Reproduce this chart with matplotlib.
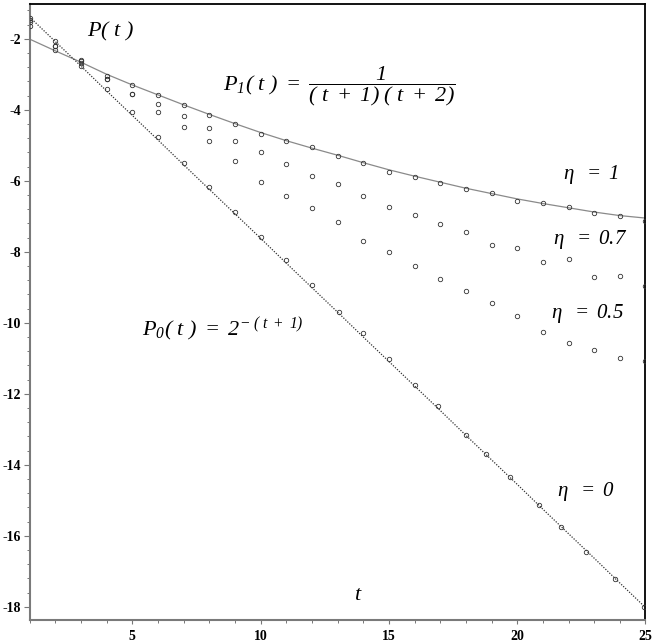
import numpy as np
import matplotlib
matplotlib.use('Agg')
import matplotlib.pyplot as plt
from matplotlib.ticker import MultipleLocator

plt.rcParams['axes.unicode_minus'] = False
plt.rcParams['font.family'] = ['Liberation Serif', 'DejaVu Serif']
plt.rcParams['mathtext.fontset'] = 'custom'
plt.rcParams['mathtext.it'] = 'Liberation Serif:italic'
plt.rcParams['mathtext.rm'] = 'Liberation Serif:italic'

# curve values (y = ln P)
t_curve = list(range(1, 26))
p1_curve = [-2.01, -2.34, -2.66, -3.00, -3.30, -3.58, -3.86, -4.13, -4.39, -4.64,
            -4.87, -5.08, -5.28, -5.49, -5.69, -5.87, -6.04, -6.21, -6.36, -6.51,
            -6.64, -6.76, -6.88, -6.98, -7.05]
p0_curve = [-1.39, -2.08, -2.77, -3.47, -4.16, -4.85, -5.55, -6.24, -6.93, -7.62,
            -8.32, -9.01, -9.70, -10.40, -11.09, -11.78, -12.47, -13.17, -13.86, -14.55,
            -15.25, -15.94, -16.63, -17.33, -18.02]

# simulated points
t_pts = list(range(1, 26))
eta1 = [-1.63, -2.31, -2.59, -3.04, -3.31, -3.58, -3.86, -4.14, -4.41, -4.67,
        -4.87, -5.05, -5.29, -5.50, -5.75, -5.88, -6.05, -6.22, -6.35, -6.56,
        -6.63, -6.74, -6.90, -6.98, -7.13]
eta07 = [-1.53, -2.19, -2.62, -3.13, -3.55, -3.83, -4.17, -4.50, -4.87, -5.18,
         -5.52, -5.86, -6.10, -6.42, -6.74, -6.96, -7.22, -7.44, -7.80, -7.90,
         -8.29, -8.21, -8.72, -8.68, -8.96]
eta05 = [-1.48, -2.19, -2.69, -3.13, -3.55, -4.05, -4.49, -4.88, -5.44, -6.03,
         -6.42, -6.77, -7.17, -7.69, -8.01, -8.39, -8.77, -9.10, -9.45, -9.81,
         -10.25, -10.57, -10.77, -10.99, -11.07]
t_eta0 = [1, 2, 3, 4, 5, 6, 7, 8, 9, 10, 11, 12, 13.05, 14, 15, 16,
          16.9, 18.0, 18.8, 19.7, 20.85, 21.7, 22.7, 23.8, 24.95]
eta0 = [-1.42, -2.06, -2.78, -3.41, -4.07, -4.78, -5.50, -6.18, -6.87, -7.58,
        -8.23, -8.94, -9.70, -10.30, -11.02, -11.75, -12.34, -13.16, -13.69, -14.33,
        -15.13, -15.74, -16.45, -17.22, -18.01]

y_ticks = [-2, -4, -6, -8, -10, -12, -14, -16, -18]
x_ticks = [5, 10, 15, 20, 25]

fig = plt.figure(figsize=(6.54, 6.44), dpi=100)
ax = fig.add_axes([29.7 / 654, 23.7 / 644, 615.8 / 654, 616.3 / 644])

ax.plot(t_curve, p1_curve, color='#8a8a8a', lw=0.9, zorder=2)
ax.plot(t_curve, p0_curve, color='#333333', lw=0.9, ls=(0, (1, 1.2)), zorder=2)

dot = dict(ls='none', marker='o', ms=3.2, mfc='none', mec='#333333', mew=0.6, zorder=3)
ax.plot(t_pts, eta1, **dot)
ax.plot(t_pts, eta07, **dot)
ax.plot(t_pts, eta05, **dot)
ax.plot(t_eta0, eta0, **dot)

ax.set_xlim(1, 25)
ax.set_ylim(-18.38, -1.02)

ax.set_yticks(y_ticks)
ax.set_xticks(x_ticks)
ax.yaxis.set_minor_locator(MultipleLocator(0.4))
ax.xaxis.set_minor_locator(MultipleLocator(1))
ax.tick_params(which='major', direction='out', length=4.5, width=0.8, color='#777777',
               labelsize=10, pad=1.5)
ax.tick_params(axis='x', which='major', length=3, pad=4)
ax.tick_params(which='minor', direction='out', length=2.5, width=0.7, color='#777777')
for lab in ax.get_xticklabels() + ax.get_yticklabels():
    lab.set_fontweight('bold')

for side in ['left', 'bottom']:
    ax.spines[side].set_color('#7a7a7a')
    ax.spines[side].set_linewidth(1.5)
for side in ['top', 'right']:
    ax.spines[side].set_color('black')
    ax.spines[side].set_linewidth(1.3)

# labels
ax.text(3.22, -1.80, r'$P(\ t\ )$', fontsize=16, ha='left', va='center')
ax.text(8.54, -3.32,
        r'$P_1(\ t\ )\ =\ \dfrac{1}{(\ t\ +\ 1)\ (\ t\ +\ 2)}$',
        fontsize=16, ha='left', va='center')
ax.text(5.37, -10.2, r'$P_0(\ t\ )\ =\ 2^{-\ (\ t\ +\ 1)}$',
        fontsize=16, ha='left', va='center')
ax.text(21.8, -5.83, r'$\eta\ \ =\ 1$', fontsize=15, ha='left', va='center')
ax.text(21.4, -7.65, r'$\eta\ \ =\ 0.7$', fontsize=15, ha='left', va='center')
ax.text(21.32, -9.73, r'$\eta\ \ =\ 0.5$', fontsize=15, ha='left', va='center')
ax.text(21.55, -14.75, r'$\eta\ \ =\ 0$', fontsize=15, ha='left', va='center')
ax.text(13.8, -17.68, r'$t$', fontsize=16, ha='center', va='center')

fig.savefig('out.png', dpi=100, facecolor='white')
